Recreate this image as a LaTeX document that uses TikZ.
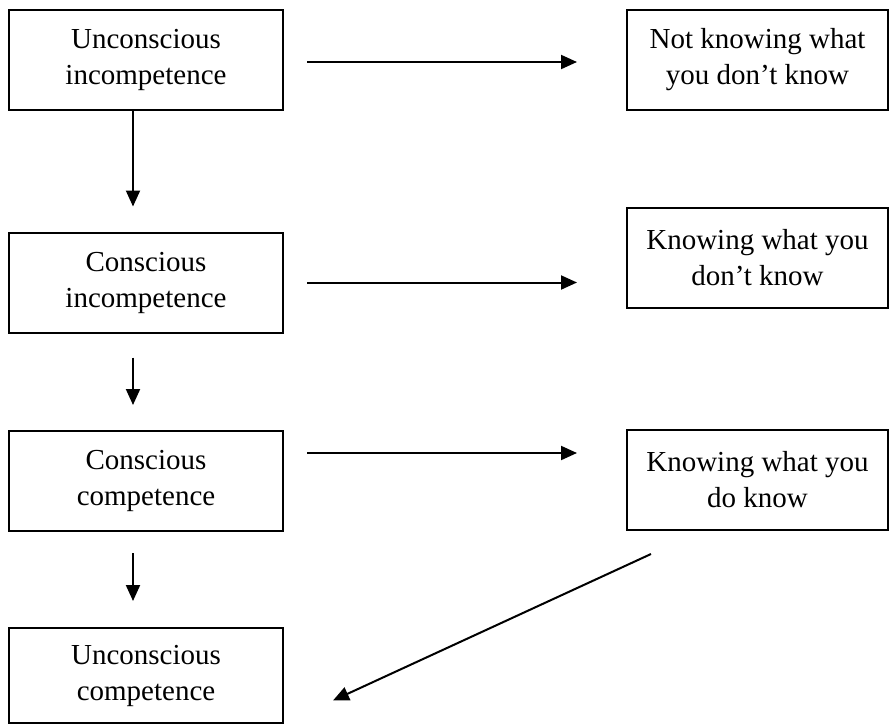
\documentclass[tikz,border=0pt]{standalone}
\usepackage{fontspec}
\setmainfont{Liberation Serif}
\usetikzlibrary{arrows.meta}
\begin{document}
\begin{tikzpicture}[x=1pt,y=-1pt,
  stage/.style={draw,line width=2pt,rectangle,align=center,inner sep=0pt,
    minimum width=274pt,minimum height=100pt,
    font=\fontsize{29}{36}\selectfont},
  state/.style={stage,minimum width=261pt},
  arr/.style={line width=2pt,-{Triangle[length=16pt,width=14pt]}}]
\useasboundingbox (0,0) rectangle (889,726);
% stages on the left
\node[stage] (L1) at (146,60) {Unconscious\\incompetence};
\node[stage] (L2) at (146,282.5) {Conscious\\incompetence};
\node[stage] (L3) at (146,481) {Conscious\\competence};
\node[stage,minimum height=95pt] (L4) at (146,675.5) {Unconscious\\competence};
% what it means
\node[state] (R1) at (757.5,60) {Not knowing what\\you don't know};
\node[state] (R2) at (757.5,258) {Knowing what you\\don't know};
\node[state] (R3) at (757.5,480) {Knowing what you\\do know};
% arrows
\draw[arr,shorten >=25pt] ([xshift=-13pt]L1.south) -- ([xshift=-13pt]L2.north);
\draw[arr,shorten <=24pt,shorten >=25pt] ([xshift=-13pt]L2.south) -- ([xshift=-13pt]L3.north);
\draw[arr,shorten <=21pt,shorten >=26pt] ([xshift=-13pt]L3.south) -- ([xshift=-13pt]L4.north);
\draw[arr,shorten <=23pt,shorten >=49pt] ([yshift=-2pt]L1.east) -- ([yshift=-2pt]R1.west);
\draw[arr,shorten <=23pt,shorten >=49pt] (L2.east) -- (L2.east -| R2.west);
\draw[arr,shorten <=23pt,shorten >=49pt] ([yshift=28pt]L3.east) -- ([yshift=27pt]R3.west);
\draw[arr] ([shift={(25,23)}]R3.south west) -- ([shift={(49,25)}]L4.east);
\end{tikzpicture}
\end{document}
